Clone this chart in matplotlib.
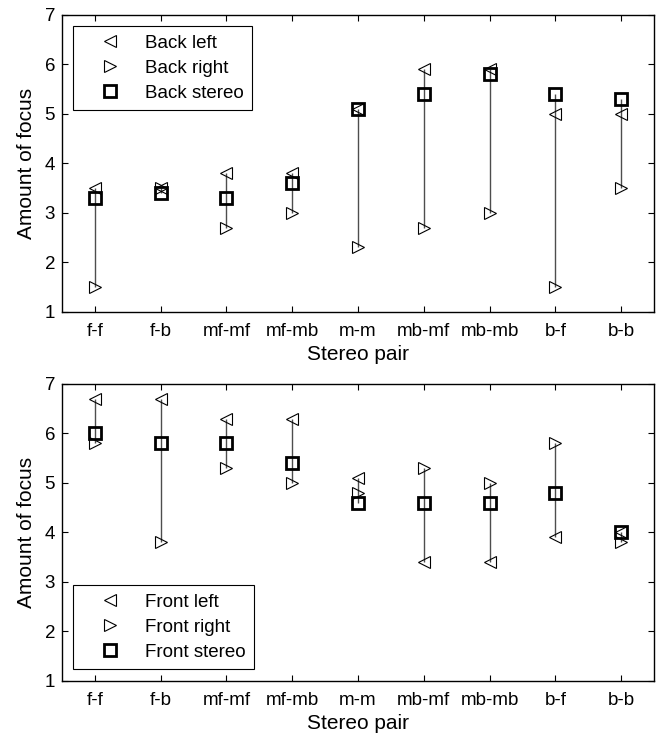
import numpy as np
import matplotlib
matplotlib.use("Agg")
import matplotlib.pyplot as plt

plt.rcParams['font.family'] = ['Liberation Sans', 'DejaVu Sans']

pairs = ["f-f", "f-b", "mf-mf", "mf-mb", "m-m", "mb-mf", "mb-mb", "b-f", "b-b"]

back_left = [3.5, 3.5, 3.8, 3.8, 5.1, 5.9, 5.9, 5.0, 5.0]
back_right = [1.5, 3.5, 2.7, 3.0, 2.3, 2.7, 3.0, 1.5, 3.5]
back_stereo = [3.3, 3.4, 3.3, 3.6, 5.1, 5.4, 5.8, 5.4, 5.3]

front_left = [6.7, 6.7, 6.3, 6.3, 5.1, 3.4, 3.4, 3.9, 4.0]
front_right = [5.8, 3.8, 5.3, 5.0, 4.8, 5.3, 5.0, 5.8, 3.8]
front_stereo = [6.0, 5.8, 5.8, 5.4, 4.6, 4.6, 4.6, 4.8, 4.0]


def draw_panel(ax, left, right, stereo, names, legend_loc):
    x = np.arange(1, len(pairs) + 1)
    # line through the three values of each pair
    lo = np.min([left, right, stereo], axis=0)
    hi = np.max([left, right, stereo], axis=0)
    ax.vlines(x, lo, hi, color='0.3', lw=1, zorder=1)
    ax.plot(x, left, ls='none', marker='<', ms=9, mfc='none', mec='k',
            mew=0.8, label=names[0], zorder=2)
    ax.plot(x, right, ls='none', marker='>', ms=9, mfc='none', mec='k',
            mew=0.8, label=names[1], zorder=2)
    ax.plot(x, stereo, ls='none', marker='s', ms=8, mfc='none', mec='k',
            mew=2, label=names[2], zorder=3)
    ax.set_xlim(0.5, 9.5)
    ax.set_ylim(1, 7)
    ax.set_xticks(x)
    ax.set_xticklabels(pairs)
    ax.set_yticks(range(1, 8))
    ax.tick_params(direction='in', top=True, right=True, length=4,
                   labelsize=13.5, width=0.8)
    ax.tick_params(axis='x', pad=8)
    ax.tick_params(axis='y', pad=5)
    ax.set_xlabel("Stereo pair", fontsize=15, labelpad=4)
    ax.set_ylabel("Amount of focus", fontsize=15, labelpad=6)
    for s in ax.spines.values():
        s.set_linewidth(1)
    leg = ax.legend(loc=legend_loc, fontsize=13.5, fancybox=False,
                    edgecolor='k', framealpha=1, borderpad=0.45,
                    handletextpad=0.35, labelspacing=0.42, handlelength=3.0,
                    borderaxespad=0.6)
    leg.get_frame().set_linewidth(0.8)


fig = plt.figure(figsize=(6.57, 7.35), dpi=100)
ax1 = fig.add_axes([0.0944, 0.576, 0.901, 0.4037])
ax2 = fig.add_axes([0.0944, 0.0739, 0.901, 0.4037])

draw_panel(ax1, back_left, back_right, back_stereo,
           ["Back left", "Back right", "Back stereo"], 'upper left')
draw_panel(ax2, front_left, front_right, front_stereo,
           ["Front left", "Front right", "Front stereo"], 'lower left')

fig.savefig("out.png", dpi=100)
